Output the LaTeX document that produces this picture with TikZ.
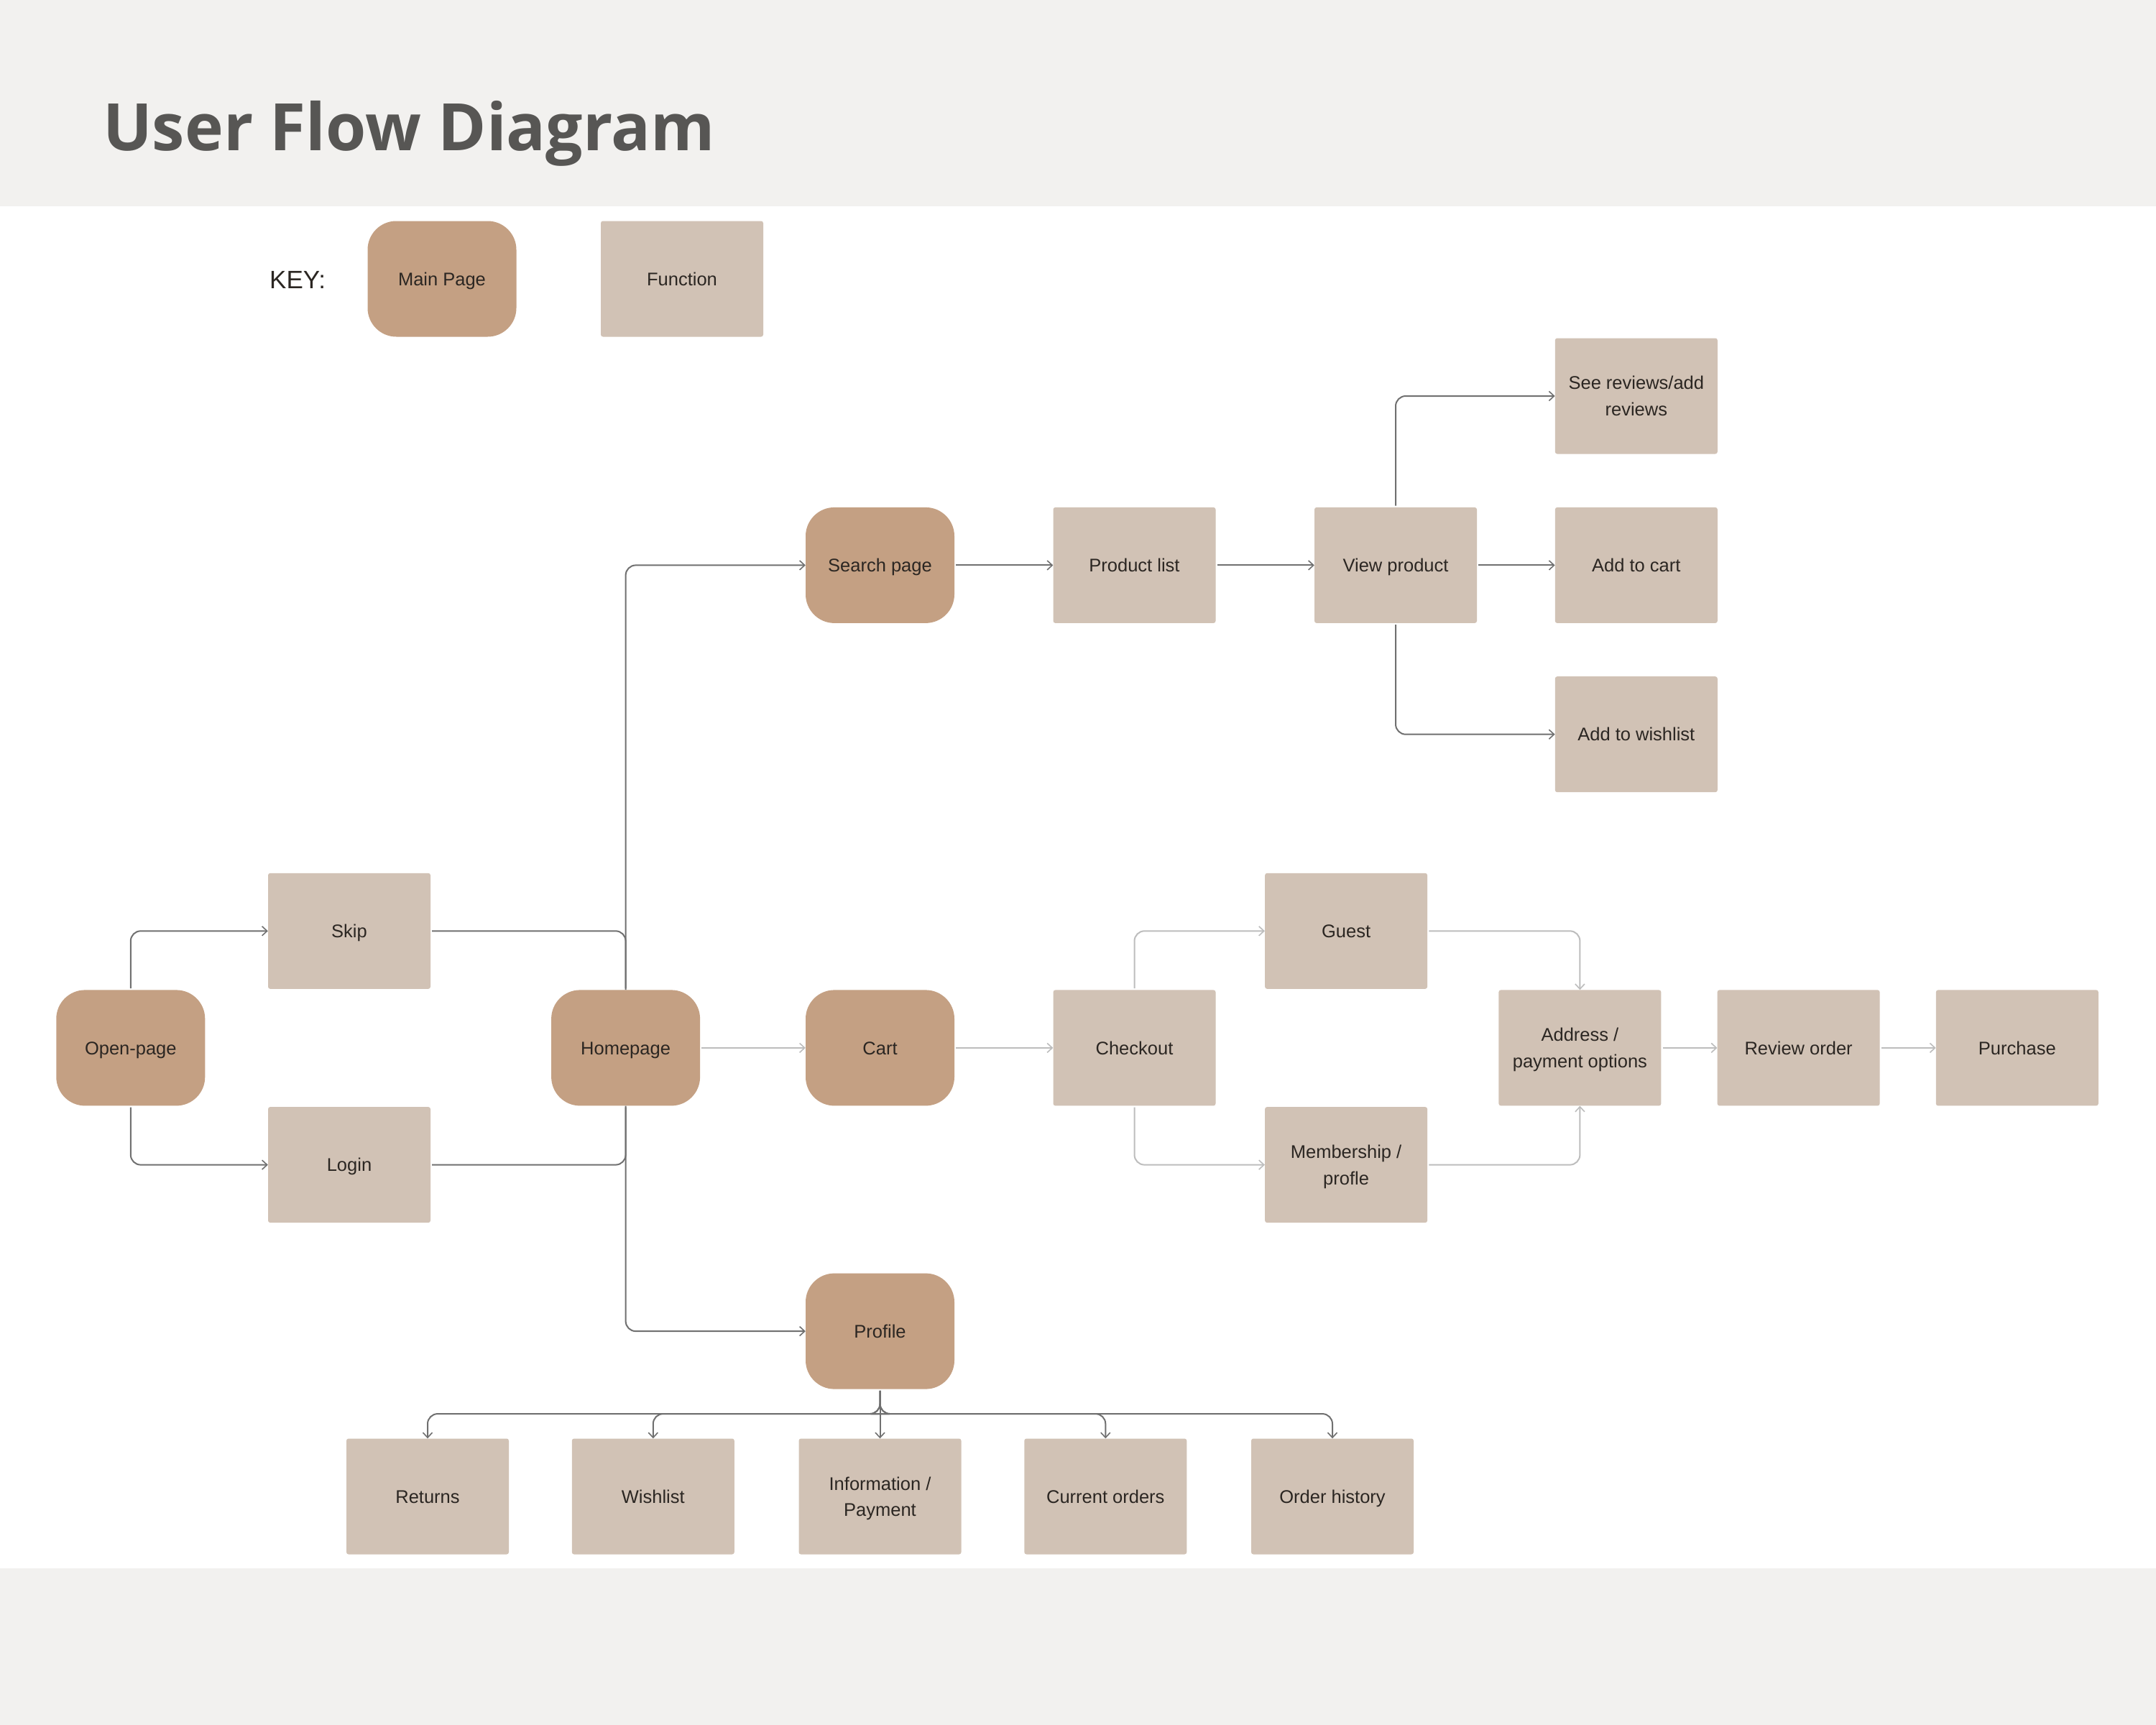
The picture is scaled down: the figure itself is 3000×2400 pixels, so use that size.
\documentclass[tikz,border=0pt]{standalone}
\usepackage{fontspec}
\setmainfont{Liberation Sans}
\newfontfamily\titlefont{Open Sans}
\usetikzlibrary{arrows.meta,calc}
\definecolor{bandgray}{HTML}{F2F1EF}
\definecolor{mainfill}{HTML}{C4A083}
\definecolor{funcfill}{HTML}{D1C2B5}
\definecolor{txt}{HTML}{2B2622}
\definecolor{darkline}{HTML}{707070}
\definecolor{lightline}{HTML}{BDBDBD}
\definecolor{titlecol}{HTML}{575654}
\begin{document}
\begin{tikzpicture}[x=1pt,y=-1pt,
  boxtext/.style={text=txt,font=\fontsize{25.5}{36.5}\selectfont,align=center,inner sep=0pt,text depth=0pt},
  oneline/.style={text height=18.4pt},
  mainpage/.style={boxtext,rectangle,rounded corners=40pt,fill=mainfill,minimum width=207pt,minimum height=161pt},
  func/.style={boxtext,rectangle,rounded corners=3pt,fill=funcfill,minimum width=226pt,minimum height=161pt},
  conn/.style={draw=darkline,line width=2pt,rounded corners=14pt,shorten <=2pt,-{Straight Barb[length=7pt,width=13pt,line width=1.6pt]}},
  connl/.style={conn,draw=lightline},
  joinline/.style={draw=darkline,line width=2pt,rounded corners=14pt,shorten <=2pt}
]
% background
\fill[white] (0,0) rectangle (3000,2400);
\fill[bandgray] (0,0) rectangle (3000,287);
\fill[bandgray] (0,2182) rectangle (3000,2400);

% title and key
\node[anchor=base west,inner sep=0pt,text=titlecol,font=\titlefont\bfseries\fontsize{91}{100}\selectfont] (title) at (143,210) {User Flow Diagram};
\node[anchor=west,inner sep=0pt,text=txt,font=\fontsize{35}{40}\selectfont] (key) at (375,389) {KEY:};
\node[mainpage,oneline] (keymain) at (615,388) {Main Page};
\node[func,oneline] (keyfunc) at (949,388) {Function};

% main flow
\node[mainpage,oneline] (open) at (181.8,1457.9) {Open-page};
\node[func,oneline] (skip) at (486,1295.3) {Skip};
\node[func,oneline] (login) at (486,1620.6) {Login};
\node[mainpage,oneline] (home) at (870.6,1457.9) {Homepage};
\node[mainpage,oneline] (search) at (1224.5,786.4) {Search page};
\node[mainpage,oneline] (cart) at (1224.5,1457.9) {Cart};
\node[mainpage,oneline] (profile) at (1224.5,1852.1) {Profile};

\node[func,oneline] (plist) at (1578.5,786.4) {Product list};
\node[func,oneline] (view) at (1942,786.4) {View product};
\node[func] (reviews) at (2276.8,551) {See reviews/add\\reviews};
\node[func,oneline] (addcart) at (2276.8,786.4) {Add to cart};
\node[func,oneline] (wish) at (2276.8,1021.7) {Add to wishlist};

\node[func,oneline] (checkout) at (1578.5,1457.9) {Checkout};
\node[func,oneline] (guest) at (1873.1,1295.3) {Guest};
\node[func] (member) at (1873.1,1620.6) {Membership /\\profle};
\node[func] (address) at (2198.4,1457.9) {Address /\\payment options};
\node[func,oneline] (review) at (2502.6,1457.9) {Review order};
\node[func,oneline] (purchase) at (2806.8,1457.9) {Purchase};

\node[func,oneline] (returns) at (595,2082) {Returns};
\node[func,oneline] (pwish) at (908.8,2082) {Wishlist};
\node[func] (info) at (1224.5,2082) {Information /\\Payment};
\node[func,oneline] (current) at (1538.3,2082) {Current orders};
\node[func,oneline] (history) at (1854,2082) {Order history};

% connectors: left part
\draw[conn] (open.north) |- (skip.west);
\draw[conn] (open.south) |- (login.west);
\draw[joinline] (skip.east) -| (home.north);
\draw[joinline] (login.east) -| (home.south);
\draw[conn] (home.north) |- (search.west);
\draw[conn] (home.south) |- (profile.west);

% search branch
\draw[conn] (search.east) -- (plist.west);
\draw[conn] (plist.east) -- (view.west);
\draw[conn] (view.east) -- (addcart.west);
\draw[conn] (view.north) |- (reviews.west);
\draw[conn] (view.south) |- (wish.west);

% cart branch
\draw[connl] (home.east) -- (cart.west);
\draw[connl] (cart.east) -- (checkout.west);
\draw[connl] (checkout.north) |- (guest.west);
\draw[connl] (checkout.south) |- (member.west);
\draw[connl] (guest.east) -| (address.north);
\draw[connl] (member.east) -| (address.south);
\draw[connl] (address.east) -- (review.west);
\draw[connl] (review.east) -- (purchase.west);

% profile branch
\coordinate (pb) at ($(profile.south)!0.5!(info.north)$);
\draw[conn] (profile.south) -- (info.north);
\draw[conn] (profile.south) |- ([xshift=-1pt]pb) -| (returns.north);
\draw[conn] (profile.south) |- ([xshift=-1pt]pb) -| (pwish.north);
\draw[conn] (profile.south) |- ([xshift=1pt]pb) -| (current.north);
\draw[conn] (profile.south) |- ([xshift=1pt]pb) -| (history.north);
\end{tikzpicture}
\end{document}
